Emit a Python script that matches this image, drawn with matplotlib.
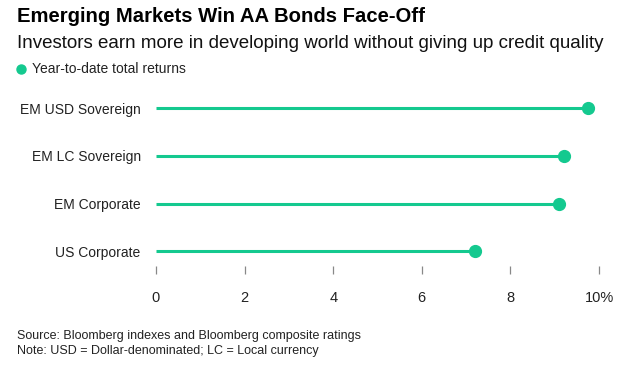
import matplotlib
matplotlib.use("Agg")
import matplotlib.pyplot as plt

categories = ["US Corporate", "EM Corporate", "EM LC Sovereign", "EM USD Sovereign"]
returns = [7.2, 9.1, 9.2, 9.75]
ticks = [0, 2, 4, 6, 8, 10]
tick_labels = ["0", "2", "4", "6", "8", "10%"]

green = "#14c98f"
plt.rcParams["font.family"] = ["Liberation Sans", "DejaVu Sans"]

fig = plt.figure(figsize=(6.37, 3.69), dpi=100)
W, H = 637, 369
ax = fig.add_axes([156 / W, 1 - 266 / H, (599 - 156) / W, (266 - 90) / H])

ypos = list(range(len(categories)))
ax.hlines(ypos, 0, returns, color=green, lw=2.2, zorder=2)
ax.plot(returns, ypos, "o", color=green, ms=8.5, zorder=3)

ax.set_xlim(0, 10)
ax.set_ylim(-0.31, 3.38)
ax.set_xticks(ticks)
ax.set_xticklabels(tick_labels, fontsize=10.5, color="#222222")
ax.set_yticks(ypos)
ax.set_yticklabels(categories, fontsize=10, color="#222222")
ax.tick_params(axis="y", length=0, pad=11)
ax.tick_params(axis="x", length=6, width=0.9, color="#888888", pad=12, direction="out")
for s in ax.spines.values():
    s.set_visible(False)

fig.text(17 / W, 1 - 17 / H, "Emerging Markets Win AA Bonds Face-Off",
         fontsize=14.6, fontweight="bold", va="center", ha="left", color="#000000")
fig.text(17 / W, 1 - 43 / H, "Investors earn more in developing world without giving up credit quality",
         fontsize=13.5, va="center", ha="left", color="#111111")
fig.lines.append(plt.Line2D([21 / W], [1 - 69 / H], marker="o", color=green, ms=6.5,
                            transform=fig.transFigure))
fig.text(32 / W, 1 - 69 / H, "Year-to-date total returns",
         fontsize=10, va="center", ha="left", color="#222222")
fig.text(17 / W, 1 - 336 / H, "Source: Bloomberg indexes and Bloomberg composite ratings",
         fontsize=9, va="center", ha="left", color="#222222")
fig.text(17 / W, 1 - 351 / H, "Note: USD = Dollar-denominated; LC = Local currency",
         fontsize=9, va="center", ha="left", color="#222222")

fig.savefig("out.png", dpi=100)
